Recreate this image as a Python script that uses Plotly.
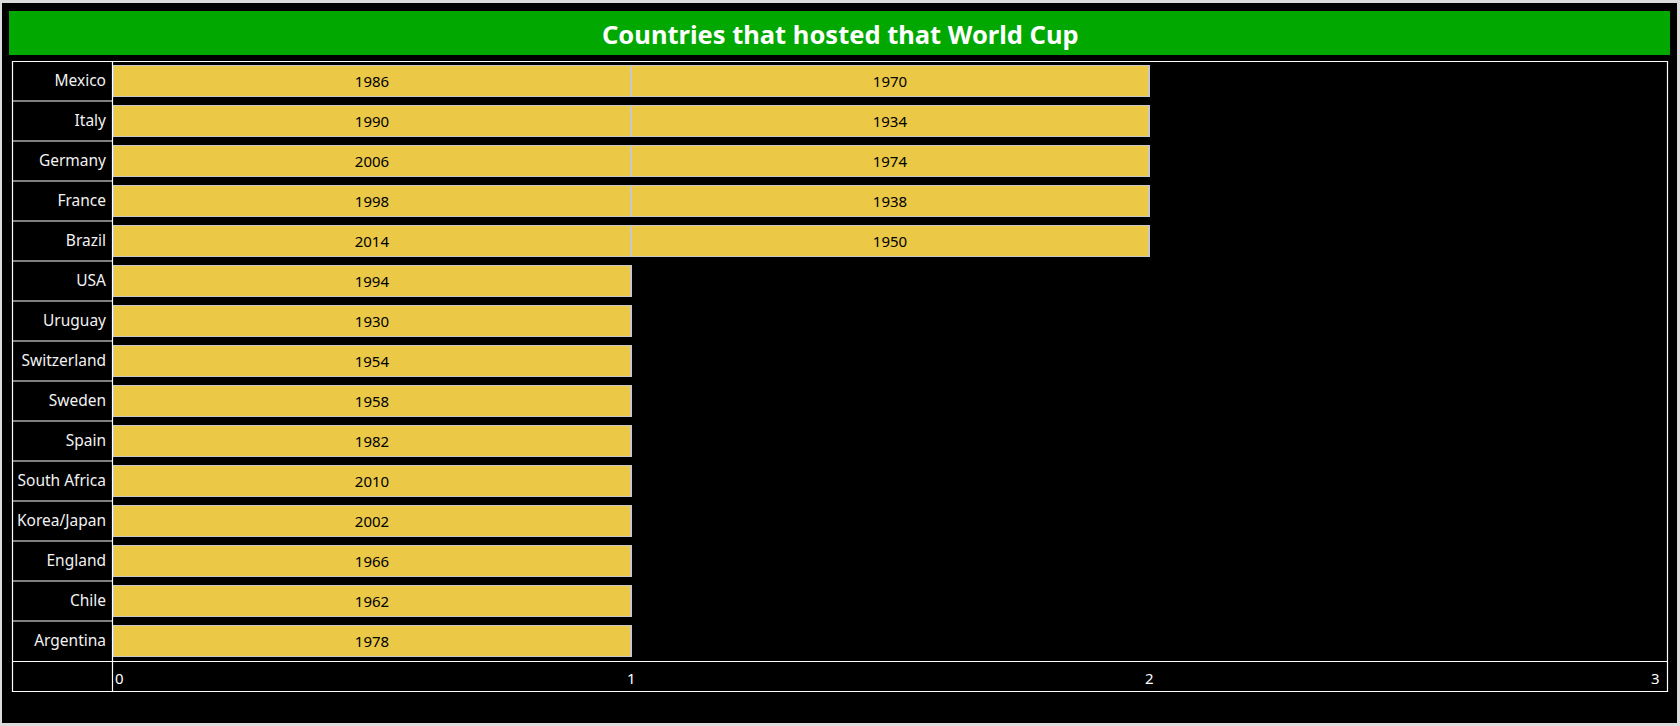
import plotly.graph_objects as go

# ---- data ----
countries = ["Mexico", "Italy", "Germany", "France", "Brazil", "USA", "Uruguay",
             "Switzerland", "Sweden", "Spain", "South Africa", "Korea/Japan",
             "England", "Chile", "Argentina"]
first_years = ["1986", "1990", "2006", "1998", "2014", "1994", "1930", "1954",
               "1958", "1982", "2010", "2002", "1966", "1962", "1978"]
second_countries = ["Mexico", "Italy", "Germany", "France", "Brazil"]
second_years = ["1970", "1934", "1974", "1938", "1950"]
first_counts = [1] * len(countries)
second_counts = [1] * len(second_countries)
x_ticks = [0, 1, 2, 3]
title_text = "Countries that hosted that World Cup"

# ---- layout geometry (pixels) ----
W, H = 1680, 726
PL, PR, PT, PB = 113, 1667, 61, 661  # plot area box


def px(x):
    return (x - PL) / (PR - PL)


def py(y):
    return (PB - y) / (PB - PT)


BAR_COLOR = "#EBC846"
BAR_LINE = "#c8c8c8"
FONT = "Noto Sans"

fig = go.Figure()
fig.add_trace(go.Bar(
    y=countries, x=first_counts, orientation="h", text=first_years,
    textposition="inside", insidetextanchor="middle", textangle=0,
    textfont=dict(color="black", size=15, family=FONT),
    marker=dict(color=BAR_COLOR, line=dict(color=BAR_LINE, width=1.2)),
    hoverinfo="skip", showlegend=False,
))
fig.add_trace(go.Bar(
    y=second_countries, x=second_counts, orientation="h", text=second_years,
    textposition="inside", insidetextanchor="middle", textangle=0,
    textfont=dict(color="black", size=15, family=FONT),
    marker=dict(color=BAR_COLOR, line=dict(color=BAR_LINE, width=1.2)),
    hoverinfo="skip", showlegend=False,
))

shapes = []
# outer black panel over light gray page
shapes.append(dict(type="rect", xref="paper", yref="paper",
                   x0=px(2), x1=px(1677), y0=py(723), y1=py(3),
                   fillcolor="black", line=dict(width=0), layer="below"))
# green title bar
shapes.append(dict(type="rect", xref="paper", yref="paper",
                   x0=px(9), x1=px(1670), y0=py(55), y1=py(11),
                   fillcolor="#00A800", line=dict(width=0), layer="below"))
# white frame
WL = dict(color="white", width=1.2)
shapes.append(dict(type="rect", xref="paper", yref="paper",
                   x0=px(12.5), x1=px(1667.5), y0=py(691.5), y1=py(61.5),
                   line=WL, fillcolor="rgba(0,0,0,0)", layer="above"))
# header column divider
shapes.append(dict(type="line", xref="paper", yref="paper",
                   x0=px(112.5), x1=px(112.5), y0=py(691.5), y1=py(61.5),
                   line=WL, layer="above"))
# axis row top line
shapes.append(dict(type="line", xref="paper", yref="paper",
                   x0=px(12.5), x1=px(1667.5), y0=py(661.5), y1=py(661.5),
                   line=WL, layer="above"))
# row separators in header column
for i in range(len(countries) - 1):
    shapes.append(dict(type="line", xref="paper", yref="y",
                       x0=px(12.5), x1=px(112.5), y0=i + 0.5, y1=i + 0.5,
                       line=WL, layer="above"))

annotations = [dict(text=f"<b>{title_text}</b>", xref="paper", yref="paper",
                    x=px(840), y=py(34), xanchor="center", yanchor="middle",
                    showarrow=False,
                    font=dict(family=FONT, size=25.5, color="white"))]
for t in x_ticks:
    if t == x_ticks[0]:
        anchor, shift = "left", 0
    elif t == x_ticks[-1]:
        anchor, shift = "right", -5
    else:
        anchor, shift = "center", 0
    annotations.append(dict(text=str(t), xref="x", yref="paper", x=t,
                            y=py(678.5), xanchor=anchor, yanchor="middle",
                            xshift=shift, showarrow=False,
                            font=dict(family=FONT, size=15, color="white")))

fig.update_layout(
    width=W, height=H,
    margin=dict(l=PL, r=W - PR, t=PT, b=H - PB, pad=0),
    paper_bgcolor="#dcdcdc", plot_bgcolor="black",
    barmode="stack", bargap=0.24,
    shapes=shapes, annotations=annotations,
    xaxis=dict(range=[x_ticks[0], x_ticks[-1]], showgrid=False, zeroline=False,
               showticklabels=False, ticks="", showline=False, fixedrange=True),
    yaxis=dict(categoryorder="array", categoryarray=countries,
               range=[len(countries) - 0.5, -0.5], showgrid=False,
               zeroline=False, ticks="", ticklabelstandoff=6, showline=False,
               tickfont=dict(family=FONT, size=15.5, color="#f2f2f2"),
               fixedrange=True),
    font=dict(family=FONT),
)

fig.write_html("out.html", config={"displayModeBar": False},
               post_script="document.body.style.margin='0';document.body.style.overflow='hidden';")
